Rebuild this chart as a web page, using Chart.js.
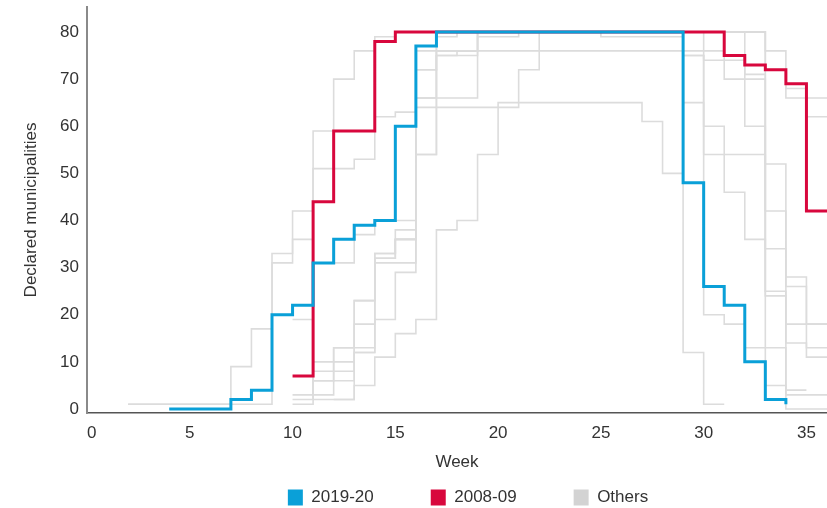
<!DOCTYPE html>
<html>
<head>
<meta charset="utf-8">
<script src="https://cdn.jsdelivr.net/npm/chart.js@4.4.1/dist/chart.umd.min.js"></script>
<style>
html,body{margin:0;padding:0;background:#ffffff;}
#wrap{width:827px;height:508px;}
</style>
</head>
<body>
<div id="wrap"><canvas id="c" width="827" height="508"></canvas></div>
<script>
// ---- Data (weekly values, each series starts at the given week) ----
const xTicks = [0, 5, 10, 15, 20, 25, 30, 35];
const yTicks = [0, 10, 20, 30, 40, 50, 60, 70, 80];
const legendNames = ['2019-20', '2008-09', 'Others'];

const start201920 = 4;
const s201920 = [0,0,0,2,4,20,22,31,36,39,40,60,77,80,80,80,80,80,80,80,80,80,80,80,80,48,26,22,10,2,1];

const start200809 = 10;
const s200809 = [7,44,59,59,78,80,80,80,80,80,80,80,80,80,80,80,80,80,80,80,80,75,73,72,69,42,42];

const startOtherA = 2;
const otherA = [1,1,1,1,1,9,17,33,42,59,70,76,79,80,80,80,80,80,80,80,80,80,80,80,80,80,80,80,80,80,80,76,68,62,62];
const startOtherB = 2;
const otherB = [1,1,1,1,1,1,1,31,36,51,51,53,62,63,72,80,80,80,80,80,80,80,80,80,80,80,80,80,80,80,80,72,66,66,66];
const startOtherC = 10;
const otherC = [2,8,10,18,32,36,54,75,75,79,79,80,80,80,80,79,79,79,79,75,60,54,54,52,28,18,18];
const startOtherD = 10;
const otherD = [1,6,8,12,31,31,64,64,64,64,64,72,80,80,80,80,80,80,80,75,74,74,71,42,14,13,13];
const startOtherE = 10;
const otherE = [19,31,31,37,40,40,76,76,76,76,76,76,76,76,76,76,76,76,76,76,76,70,70,34,26,11,11];
const startOtherF = 10;
const otherF = [3,10,13,23,33,38,66,66,66,80,80,80,80,80,80,80,80,80,80,80,54,46,36,25,18,18,18];
const startOtherG = 11;
const otherG = [6,13,13,33,36,72,79,80,80,80,80,80,80,80,80,80,80,80,80,80,80,60,24,3,3,3];
const startOtherH = 11;
const otherH = [3,6,12,19,29,54,75,76,80,80,80,80,80,80,80,80,80,80,80,80,80,80,5,0,0,0];
const startOtherI = 12;
const otherI = [2,23,32,36,66,76,76,80,80,80,80,80,80,80,80,80,80,65,20,18,13,13,4,4];
const startOtherS = 11;
const otherS = [2,2,5,11,16,19,38,40,54,65,65,65,65,65,65,65,61,50,12,1,1];

// ---- Styles ----
const BLUE = '#0aa0d8';
const RED = '#d8073d';
const GRAY = '#dcdcdc';
const GRAY_LEG = '#d3d3d3';
const TEXT = '#333333';

function pts(start, vals) {
  return vals.map((v, i) => ({ x: start + i, y: v }));
}

const others = [
  [startOtherA, otherA], [startOtherB, otherB], [startOtherC, otherC],
  [startOtherD, otherD], [startOtherE, otherE], [startOtherF, otherF],
  [startOtherG, otherG], [startOtherH, otherH], [startOtherI, otherI],
  [startOtherS, otherS]
];

const datasets = [
  { label: legendNames[0], data: pts(start201920, s201920), borderColor: BLUE, backgroundColor: BLUE, borderWidth: 3 },
  { label: legendNames[1], data: pts(start200809, s200809), borderColor: RED, backgroundColor: RED, borderWidth: 3 }
];
others.forEach((o) => {
  datasets.push({ label: legendNames[2], data: pts(o[0], o[1]), borderColor: GRAY, backgroundColor: GRAY_LEG, borderWidth: 1.6 });
});
datasets.forEach(d => { d.stepped = 'before'; d.pointRadius = 0; d.fill = false; d.borderJoinStyle = 'miter'; });

Chart.defaults.font.family = '"Liberation Sans", Arial, sans-serif';
Chart.defaults.font.size = 17;
Chart.defaults.color = TEXT;

// nudge the legend box into place after layout
const legendShift = {
  id: 'legendShift',
  afterLayout(chart) {
    const l = chart.legend;
    if (l) { l.left += 11; l.right += 11; l.top -= 11; l.bottom -= 11; }
  }
};

new Chart(document.getElementById('c'), {
  type: 'line',
  data: { datasets },
  plugins: [legendShift],
  options: {
    responsive: false,
    animation: false,
    events: [],
    layout: { padding: { top: 7, right: 0, bottom: -19, left: 0 } },
    plugins: {
      tooltip: { enabled: false },
      legend: {
        position: 'bottom',
        fullSize: false,
        labels: {
          boxWidth: 15,
          boxHeight: 16,
          padding: 57,
          color: TEXT,
          generateLabels: () => legendNames.map((n, i) => ({
            text: n,
            fillStyle: [BLUE, RED, GRAY_LEG][i],
            strokeStyle: [BLUE, RED, GRAY_LEG][i],
            lineWidth: 0,
            hidden: false,
            datasetIndex: i,
            fontColor: TEXT
          }))
        }
      }
    },
    scales: {
      x: {
        type: 'linear',
        min: 0,
        max: 36,
        grid: { display: false, drawTicks: false },
        border: { display: true, color: '#555555', width: 1.5 },
        afterBuildTicks: s => { s.ticks = xTicks.concat([36]).map(v => ({ value: v })); },
        afterFit: s => { s.height = 30; s.paddingLeft = 0; s.paddingRight = 0; },
        ticks: {
          autoSkip: false,
          maxRotation: 0,
          align: 'inner',
          padding: 10,
          color: TEXT,
          callback: v => (xTicks.includes(v) ? String(v) : '')
        },
        title: { display: true, text: 'Week', color: TEXT, padding: { top: 0, bottom: -30 } }
      },
      y: {
        type: 'linear',
        min: -0.85,
        max: 85.3,
        grid: { display: false, drawTicks: false },
        border: { display: true, color: '#8a8a8a', width: 2 },
        afterBuildTicks: s => { s.ticks = yTicks.map(v => ({ value: v })); },
        afterFit: s => { s.width = 87; s.paddingTop = 0; s.paddingBottom = 0; },
        ticks: { padding: 8, color: TEXT, callback: v => String(v) },
        title: { display: true, text: 'Declared municipalities', color: TEXT, padding: { top: 21, bottom: 0 } }
      }
    }
  }
});
</script>
</body>
</html>
